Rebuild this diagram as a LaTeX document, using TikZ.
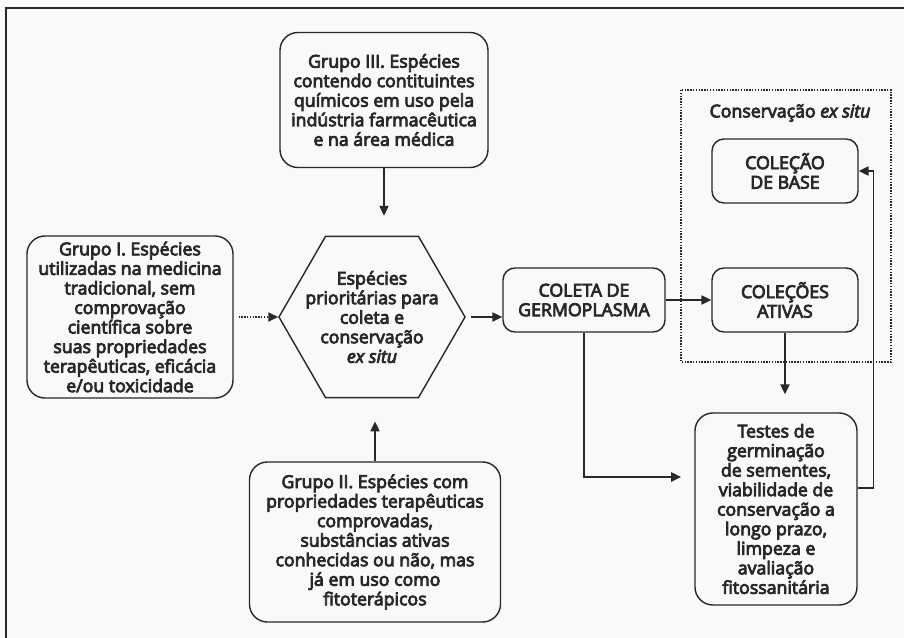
\documentclass[tikz,border=0pt]{standalone}
\usepackage{fontspec}
\setmainfont{Open Sans}[FakeBold=4.5]
\usetikzlibrary{arrows.meta, shapes.geometric, calc}
\definecolor{ink}{RGB}{40, 40, 40}
\definecolor{paper}{RGB}{249, 249, 249}

\begin{document}
\begin{tikzpicture}[x=0.025cm, y=-0.025cm, line width=1pt,
    font=\fontsize{12.6}{13.9}\selectfont, text=ink,
    box/.style={draw=ink, fill=paper, rounded corners=0.45cm, align=center, inner sep=0pt},
    smallbox/.style={box, rounded corners=0.3cm},
    link/.style={draw=ink, -{Triangle[length=7pt, width=6.5pt]}}]
  \useasboundingbox (0, 0) rectangle (904, 638);
  \clip (0, 0) rectangle (904, 638);
  \fill[paper] (0, 0) rectangle (904, 638);
  \draw[ink, line width=1.1pt] (6, 650) -- (6, 8) -- (920, 8);

  % conservacao ex situ
  \draw[ink, densely dotted] (681, 90) rectangle (891, 362);
  \node (title) at (790, 113) {Conservação \textit{ex situ}};

  \node[box, minimum width=5.2cm, minimum height=3.375cm] (grupo3) at (384, 100)
    {Grupo III. Espécies\\contendo contituintes\\químicos em uso pela\\indústria farmacêutica\\e na área médica};
  \node[box, minimum width=5.15cm, minimum height=4.05cm] (grupo1) at (130, 317)
    {Grupo I. Espécies\\utilizadas na medicina\\tradicional, sem\\comprovação\\científica sobre\\suas propriedades\\terapêuticas, eficácia\\e/ou toxicidade};
  \node[box, minimum width=6.275cm, minimum height=4cm] (grupo2) at (375, 542)
    {Grupo II. Espécies com\\propriedades terapêuticas\\comprovadas,\\substâncias ativas\\conhecidas ou não, mas\\já em uso como\\fitoterápicos};

  \node[draw=ink, fill=paper, regular polygon, regular polygon sides=6,
        minimum size=4.65cm, inner sep=0pt] (hex) at (372, 317) {};
  \node[align=center] (prior) at (hex.center)
    {Espécies\\prioritárias para\\coleta e\\conservação\\\textit{ex situ}};

  \node[smallbox, minimum width=4.05cm, minimum height=1.6cm] (coleta) at (584, 300)
    {COLETA DE\\GERMOPLASMA};
  \node[smallbox, minimum width=3.65cm, minimum height=1.6cm] (base) at (785, 171)
    {COLEÇÃO\\DE BASE};
  \node[smallbox, minimum width=3.65cm, minimum height=1.6cm] (ativas) at (785, 300)
    {COLEÇÕES\\ATIVAS};
  \node[box, minimum width=4.05cm, minimum height=4.8cm] (testes) at (776, 509)
    {Testes de\\germinação\\de sementes,\\viabilidade de\\conservação a\\longo prazo,\\limpeza e\\avaliação\\fitossanitária};

  \draw[link, shorten >=0.5cm] (grupo3) -- (grupo3 |- hex.north);
  \draw[link, shorten >=0.58cm] (grupo2) -- (grupo2 |- hex.south);
  \draw[link, densely dotted, shorten <=0.12cm] (grupo1.east) -- (hex.west);
  \draw[link, shorten <=0.12cm] (hex.east) -- (hex.east -| coleta.west);
  \draw[link] (coleta) -- (ativas);
  \draw[link, shorten >=0.45cm] (ativas) -- (ativas |- testes.north);
  \draw[link, shorten >=0.33cm] (coleta.south) |- ($(testes.west)+(0, -32)$);
  \draw[link] ($(testes.east)+(0, -21)$) -- ++(16, 0) |- (base.east);
\end{tikzpicture}
\end{document}
